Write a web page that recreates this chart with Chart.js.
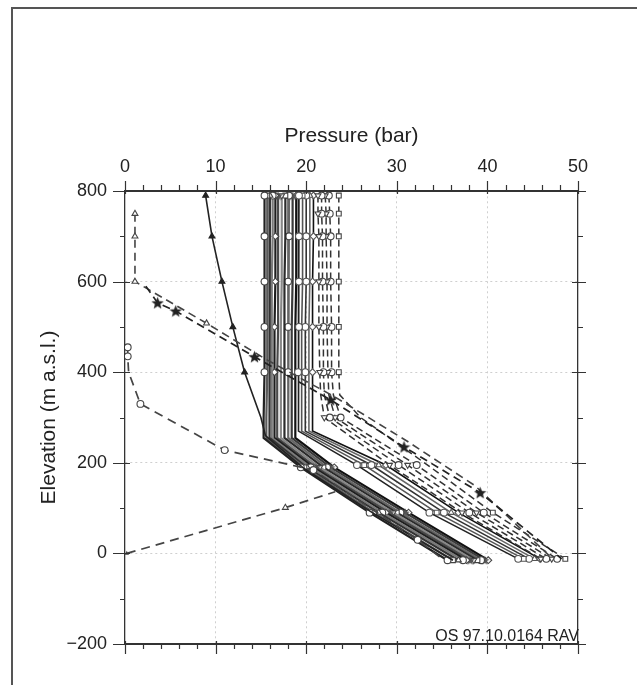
<!DOCTYPE html>
<html>
<head>
<meta charset="utf-8">
<script src="https://cdn.jsdelivr.net/npm/chart.js@4.4.0/dist/chart.umd.min.js"></script>
<style>
html,body{margin:0;padding:0;background:#fff;}
#wrap{width:637px;height:685px;}
</style>
</head>
<body>
<div id="wrap"><canvas id="myChart" width="637" height="685"></canvas></div>
<script>
// 軸の目盛
const pressureTicks = [0, 10, 20, 30, 40, 50];
const elevTicks = [-200, 0, 200, 400, 600, 800];

// 下側の束（実線）
const lowElev = [790, 700, 600, 500, 400, 300, 255, 190, 90, -15];
const lowP = [
  [15.4, 15.4, 15.4, 15.4, 15.4, 15.3, 15.3, 19.4, 27.0, 35.6],
  [15.7, 15.7, 15.7, 15.7, 15.7, 15.6, 15.6, 19.8, 27.5, 36.2],
  [16.0, 16.0, 16.0, 16.0, 15.9, 15.9, 15.9, 20.1, 28.0, 36.8],
  [16.3, 16.3, 16.2, 16.2, 16.2, 16.2, 16.2, 20.5, 28.4, 37.3],
  [16.6, 16.6, 16.6, 16.5, 16.5, 16.5, 16.5, 20.8, 28.8, 37.7],
  [16.9, 16.9, 16.9, 16.9, 16.8, 16.8, 16.8, 21.1, 29.2, 38.1],
  [17.3, 17.3, 17.3, 17.2, 17.2, 17.2, 17.2, 21.5, 29.6, 38.5],
  [17.7, 17.7, 17.6, 17.6, 17.6, 17.6, 17.6, 21.9, 30.0, 38.9],
  [18.1, 18.1, 18.0, 18.0, 18.0, 18.0, 18.0, 22.3, 30.4, 39.3],
  [18.5, 18.5, 18.5, 18.4, 18.4, 18.4, 18.4, 22.7, 30.9, 39.7],
  [18.9, 18.9, 18.9, 18.8, 18.8, 18.8, 18.8, 23.1, 31.3, 40.1]
];

// 上側の束（実線）
const upElev = [790, 700, 600, 500, 400, 300, 270, 195, 90, -12];
const upP = [
  [19.2, 19.2, 19.2, 19.2, 19.1, 19.1, 19.1, 25.6, 33.6, 43.4],
  [19.6, 19.6, 19.6, 19.5, 19.5, 19.5, 19.5, 26.4, 34.4, 44.0],
  [20.0, 20.0, 20.0, 19.9, 19.9, 19.9, 19.9, 27.2, 35.2, 44.6],
  [20.4, 20.4, 20.4, 20.3, 20.3, 20.3, 20.3, 28.0, 36.0, 45.2],
  [20.8, 20.8, 20.7, 20.7, 20.7, 20.7, 20.7, 28.8, 36.8, 45.8]
];

// 上側の束（破線）
const dashElev = [790, 750, 700, 600, 500, 400, 350, 300, 195, 90, -12];
const dashP = [
  [21.3, 21.3, 21.4, 21.4, 21.4, 21.5, 21.6, 22.0, 29.2, 37.2, 45.9],
  [21.7, 21.7, 21.8, 21.8, 21.9, 21.9, 22.0, 22.6, 30.2, 38.0, 46.5],
  [22.1, 22.2, 22.2, 22.3, 22.3, 22.4, 22.5, 23.2, 31.2, 38.8, 47.1],
  [22.5, 22.6, 22.7, 22.7, 22.8, 22.8, 23.0, 23.8, 32.2, 39.6, 47.7],
  [23.6, 23.6, 23.6, 23.6, 23.6, 23.6, 23.7, 26.0, 33.4, 40.6, 48.6]
];

// 個別の系列
const starP = [2.3, 3.6, 5.6, 14.3, 22.7, 30.8, 39.2, 48.2];
const starE = [590, 553, 535, 434, 339, 235, 134, -12];
const triOpenP = [1.1, 1.1, 1.1, 9.0, 15.6, 23.2, 31.2, 38.6, 47.2];
const triOpenE = [750, 700, 600, 508, 428, 345, 247, 150, -12];
const circP = [0.3, 0.3, 0.4, 1.7, 11.0, 20.8, 32.3, 35.2];
const circE = [455, 435, 400, 330, 228, 184, 30, -15];
const triLowP = [0.2, 17.7, 23.2];
const triLowE = [0, 101, 136];
const triFillP = [8.9, 9.6, 10.7, 11.9, 13.2, 15.0, 15.5, 19.6, 27.3, 36.2];
const triFillE = [790, 700, 600, 500, 400, 300, 260, 190, 90, -15];

// 星マーカー
function makeStar(size, color){
  const c = document.createElement('canvas');
  c.width = size; c.height = size;
  const g = c.getContext('2d');
  g.fillStyle = color;
  g.beginPath();
  for (let i = 0; i < 10; i++){
    const r = i % 2 === 0 ? size/2 : size/4.6;
    const a = -Math.PI/2 + i*Math.PI/5;
    const px = size/2 + r*Math.cos(a), py = size/2 + 0.5 + r*Math.sin(a);
    if (i === 0) g.moveTo(px, py); else g.lineTo(px, py);
  }
  g.closePath(); g.fill();
  return c;
}
const starImg = makeStar(13, '#222');
const starSmall = makeStar(10, '#555');

function pts(ps, es){ return ps.map(function(p, i){ return {x: p, y: es[i]}; }); }

function mkLine(ps, es, opt){
  return Object.assign({
    data: pts(ps, es), showLine: true, fill: false, tension: 0,
    borderWidth: 1.5, pointRadius: 0, pointBorderWidth: 1.1,
    pointBackgroundColor: '#fff', xAxisID: 'x', yAxisID: 'y'
  }, opt);
}

const R = 3.4;
const datasets = [];

// 左側の個別系列
datasets.push(mkLine(starP, starE, {borderColor: '#222', borderDash: [8, 5], borderWidth: 1.7,
  pointStyle: starImg, pointRadius: [0, R, R, R, R, R, R, 0]}));
datasets.push(mkLine(triOpenP, triOpenE, {borderColor: '#444', borderDash: [8, 5], borderWidth: 1.6,
  pointStyle: 'triangle', pointBorderColor: '#444', pointRadius: [R, R, R, R, 0, 0, 0, 0, 0]}));
datasets.push(mkLine(circP, circE, {borderColor: '#444', borderDash: [9, 6], borderWidth: 1.7,
  pointStyle: 'circle', pointBorderColor: '#444', pointRadius: [R, R, 0, R, R, R, R, 0]}));
datasets.push(mkLine(triLowP, triLowE, {borderColor: '#444', borderDash: [9, 6], borderWidth: 1.7,
  pointStyle: 'triangle', pointBorderColor: '#444', pointRadius: [1.5, R, 0]}));
datasets.push(mkLine(triFillP, triFillE, {borderColor: '#222', borderWidth: 1.6,
  pointStyle: 'triangle', pointBorderColor: '#222', pointBackgroundColor: '#222',
  pointRadius: [R, R, R, R, R, 0, 0, 0, 0, 0]}));

// 破線の列
const dashStyles = ['triangle', 'circle', 'triangle', 'circle', 'rect'];
const dashRot = [180, 0, 180, 0, 0];
dashP.forEach(function(ps, k){
  datasets.push(mkLine(ps, dashElev, {borderColor: '#333', borderDash: [7, 4], borderWidth: 1.5,
    pointStyle: dashStyles[k], pointRotation: dashRot[k], pointBorderColor: '#444',
    pointRadius: k === 4 ? [R, R, R, R, R, R, 0, 0, 0, R, R] : [R, R, R, R, R, R, 0, R, R, R, R]}));
});

// 上側の実線
const upColors = ['#222', '#555', '#333', '#666', '#111'];
const upStyles = ['circle', 'rect', 'circle', 'triangle', 'rectRot'];
upP.forEach(function(ps, k){
  datasets.push(mkLine(ps, upElev, {borderColor: upColors[k], borderWidth: 1.6,
    pointStyle: upStyles[k], pointBorderColor: '#555',
    pointRadius: k % 2 === 0 ? [R, R, R, R, R, 0, 0, R, R, R] : [R, 0, 0, 0, 0, 0, 0, R, R, R]}));
});

// 下側の実線
const lowColors = ['#222', '#5a5a5a', '#333', '#7a7a7a', '#1e1e1e', '#4a4a4a', '#888', '#2b2b2b', '#666', '#3a3a3a', '#111'];
const lowStyles = ['circle', 'rect', 'triangle', 'circle', 'rectRot', starSmall, 'triangle', 'rect', 'circle', starSmall, 'rectRot'];
lowP.forEach(function(ps, k){
  datasets.push(mkLine(ps, lowElev, {borderColor: lowColors[k], borderWidth: 2.2,
    pointStyle: lowStyles[k], pointRotation: k === 6 ? 180 : 0, pointBorderColor: '#444',
    pointRadius: k % 4 === 0 ? [R, R, R, R, R, 0, 0, R, R, R] : [R, 0, 0, 0, 0, 0, 0, R, R, R]}));
});

// 枠と目盛と注記
const decor = {
  id: 'decor',
  beforeDraw: function(chart){
    const ctx = chart.ctx;
    ctx.save();
    ctx.fillStyle = '#fff';
    ctx.fillRect(0, 0, chart.width, chart.height);
    ctx.strokeStyle = '#555';
    ctx.lineWidth = 2;
    ctx.beginPath();
    ctx.moveTo(12, 685); ctx.lineTo(12, 8); ctx.lineTo(637, 8);
    ctx.stroke();
    ctx.restore();
  },
  afterDraw: function(chart){
    const ctx = chart.ctx;
    const a = chart.chartArea;
    const sx = chart.scales.x, sy = chart.scales.y;
    ctx.save();
    ctx.strokeStyle = '#333';
    ctx.lineWidth = 1.2;
    ctx.beginPath();
    for (let v = 0; v <= 50; v += 2){
      const px = Math.round(sx.getPixelForValue(v)) + 0.5;
      const major = v % 10 === 0;
      ctx.moveTo(px, a.top - (major ? 10 : 6)); ctx.lineTo(px, a.top + (major ? 3 : 0));
      ctx.moveTo(px, a.bottom - (major ? 3 : 0)); ctx.lineTo(px, a.bottom + (major ? 10 : 5));
    }
    for (let v = -200; v <= 800; v += 100){
      const py = Math.round(sy.getPixelForValue(v)) + 0.5;
      const major = v % 200 === 0;
      ctx.moveTo(a.left - (major ? 12 : 5), py); ctx.lineTo(a.left + (major ? 5 : 0), py);
      ctx.moveTo(a.right - (major ? 6 : 0), py); ctx.lineTo(a.right + (major ? 8 : 5), py);
    }
    ctx.moveTo(a.left - 6, a.top + 0.5); ctx.lineTo(a.right + 8, a.top + 0.5);
    ctx.moveTo(a.left - 4, a.bottom + 0.5); ctx.lineTo(a.right + 8, a.bottom + 0.5);
    ctx.stroke();
    ctx.fillStyle = '#222';
    ctx.font = '16px "Liberation Sans", Arial, sans-serif';
    ctx.textAlign = 'right';
    ctx.textBaseline = 'alphabetic';
    ctx.fillText('OS 97.10.0164 RAV', a.right + 1, a.bottom - 3);
    ctx.restore();
  }
};

const font = '"Liberation Sans", Arial, sans-serif';

const canvas = document.getElementById('myChart');
const myChart = new Chart(canvas.getContext('2d'), {
  type: 'scatter',
  data: { datasets: datasets },
  plugins: [decor],
  options: {
    responsive: false,
    animation: false,
    devicePixelRatio: 1,
    layout: { padding: { left: 0, top: 0, right: 45, bottom: 27 } },
    plugins: { legend: { display: false }, tooltip: { enabled: false } },
    scales: {
      x: {
        type: 'linear', position: 'top', min: 0, max: 50,
        afterBuildTicks: function(s){ s.ticks = pressureTicks.map(function(v){ return {value: v}; }); },
        afterFit: function(s){ s.height = 191; },
        ticks: { font: { family: font, size: 18 }, color: '#222', padding: 13 },
        grid: { color: function(c){ return (c.tick && c.tick.value > 0 && c.tick.value < 50) ? '#cfcfcf' : 'rgba(0,0,0,0)'; }, drawTicks: false, lineWidth: 1 },
        border: { display: true, color: '#333', width: 1.3, dash: [2, 3] },
        title: { display: true, text: 'Pressure (bar)', font: { family: font, size: 21 }, color: '#222', padding: { top: 124, bottom: 0 } }
      },
      x2: {
        type: 'linear', position: 'bottom', min: 0, max: 50,
        afterFit: function(s){ s.height = 14; },
        ticks: { display: false },
        grid: { display: false, drawTicks: false },
        border: { display: true, color: '#333', width: 1.3 }
      },
      y: {
        type: 'linear', position: 'left', min: -200, max: 800,
        afterBuildTicks: function(s){ s.ticks = elevTicks.map(function(v){ return {value: v}; }); },
        afterFit: function(s){ s.width = 125; },
        ticks: { font: { family: font, size: 18 }, color: '#222', padding: 18,
          callback: function(v){ return v < 0 ? '\u2212' + Math.abs(v) : String(v); } },
        grid: { color: function(c){ return (c.tick && c.tick.value > -200 && c.tick.value < 800) ? '#cfcfcf' : 'rgba(0,0,0,0)'; }, drawTicks: false, lineWidth: 1 },
        border: { display: true, color: '#333', width: 1.3, dash: [2, 3] },
        title: { display: true, text: 'Elevation (m a.s.l.)', font: { family: font, size: 21 }, color: '#222', padding: { top: 37, bottom: 0 } }
      },
      y2: {
        type: 'linear', position: 'right', min: -200, max: 800,
        afterFit: function(s){ s.width = 14; },
        ticks: { display: false },
        grid: { display: false, drawTicks: false },
        border: { display: true, color: '#333', width: 1.3 }
      }
    }
  }
});
console.log('drawn', myChart.chartArea);
</script>
</body>
</html>
